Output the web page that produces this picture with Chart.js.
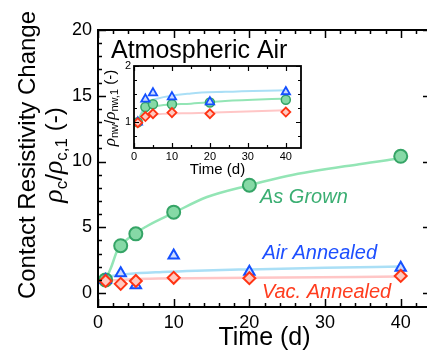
<!DOCTYPE html>
<html><head><meta charset="utf-8">
<script src="https://cdn.jsdelivr.net/npm/chart.js@4"></script>
<style>
html,body{margin:0;padding:0;background:#fff;overflow:hidden;}
#wrap{position:relative;width:440px;height:351px;}
#main{position:absolute;left:0;top:0;}
#inset{position:absolute;left:95px;top:50px;}
</style></head><body>
<div id="wrap"><canvas id="main" width="440" height="351"></canvas><canvas id="inset" width="215" height="130"></canvas></div>
<script>
// ---------- data ----------
const days = [1, 3, 5, 10, 20, 40];
const asGrown = [1.0, 3.6, 4.5, 6.15, 8.2, 10.4];
const airAnnealed = [1.0, 1.5, 0.6, 2.85, 1.62, 1.93];
const vacAnnealed = [0.92, 0.7, 0.92, 1.16, 1.13, 1.3];

const fitDaysGrown = [1, 1.7, 2.6, 4, 6.5, 10, 14.4, 20, 25, 34.5, 40];
const fitGrown = [1.0, 1.9, 3.3, 4.15, 5.1, 6.1, 7.3, 8.2, 8.9, 9.8, 10.25];
const fitDaysAir = [1, 1.5, 2.6, 4, 8.5, 13, 20, 30, 40];
const fitAir = [1.0, 1.25, 1.35, 1.45, 1.6, 1.7, 1.8, 1.92, 2.02];
const fitDaysVac = [1, 2, 4, 8, 20, 40];
const fitVac = [0.92, 0.98, 1.04, 1.1, 1.16, 1.25];

const insetGrown = [1.0, 1.27, 1.32, 1.32, 1.35, 1.40];
const insetAir = [1.0, 1.41, 1.52, 1.45, 1.36, 1.54];
const insetVac = [0.99, 1.10, 1.15, 1.17, 1.15, 1.18];
const insetFitDaysGrown = [1, 2, 4.6, 15, 24, 40];
const insetFitGrown = [1.03, 1.15, 1.27, 1.33, 1.375, 1.42];
const insetFitDaysAir = [1, 3, 6.3, 15, 24, 40];
const insetFitAir = [1.0, 1.32, 1.42, 1.51, 1.54, 1.57];
const insetFitDaysVac = [1, 2.5, 6.3, 15, 40];
const insetFitVac = [1.0, 1.08, 1.14, 1.16, 1.21];

const xTicks = [0, 10, 20, 30, 40];
const yTicks = [0, 5, 10, 15, 20];
const insetXTicks = [0, 10, 20, 30, 40];
const insetYTicks = [1, 2];

// ---------- style ----------
const GREEN_LINE = '#93e5b5', GREEN_FILL = '#86d9a6', GREEN_EDGE = '#35a466', GREEN_TEXT = '#3aae72';
const BLUE_LINE = '#aadff6', BLUE_FILL = '#cddbff', BLUE_EDGE = '#1450ff', BLUE_TEXT = '#1d4fff';
const RED_LINE = '#ffc6c6', RED_FILL = '#ffc9c0', RED_EDGE = '#ff3414', RED_TEXT = '#ff3c1e';
const SANS = '"Liberation Sans", Arial, sans-serif';
const SERIF = '"Liberation Serif", "Times New Roman", serif';

const pts = (xs, ys) => xs.map((x, i) => ({x: x, y: ys[i]}));

function drawRich(ctx, parts, cx, cy, angle) {
  ctx.save();
  ctx.translate(cx, cy);
  ctx.rotate(angle);
  let total = 0;
  parts.forEach(p => { ctx.font = p.font; p.w = ctx.measureText(p.t).width; total += p.w; });
  let x = -total / 2;
  ctx.textBaseline = 'alphabetic';
  ctx.textAlign = 'left';
  parts.forEach(p => { ctx.font = p.font; ctx.fillStyle = p.color || '#000'; ctx.fillText(p.t, x, p.dy || 0); x += p.w; });
  ctx.restore();
}

function frameTicks(id, spec) {
  return {
    id: id,
    afterDatasetsDraw(chart) {
      const ctx = chart.ctx, a = chart.chartArea, xs = chart.scales.x, ys = chart.scales.y;
      ctx.save();
      ctx.strokeStyle = '#000';
      ctx.lineWidth = spec.tickWidth;
      ctx.beginPath();
      for (let i = 0; i * spec.xMinor <= xs.max + 1e-9; i++) {
        const v = i * spec.xMinor;
        const px = Math.round(xs.getPixelForValue(v)) + 0.5;
        const major = Math.abs(v / spec.xMajor - Math.round(v / spec.xMajor)) < 1e-6;
        const L = major ? spec.majorLen : spec.minorLen;
        ctx.moveTo(px, a.bottom); ctx.lineTo(px, a.bottom - L);
        ctx.moveTo(px, a.top); ctx.lineTo(px, a.top + L);
      }
      for (let i = 0; spec.yStart + i * spec.yMinor <= ys.max + 1e-9; i++) {
        const v = spec.yStart + i * spec.yMinor;
        const py = Math.round(ys.getPixelForValue(v)) + 0.5;
        const major = Math.abs(v / spec.yMajor - Math.round(v / spec.yMajor)) < 1e-6;
        const L = major ? spec.majorLen : spec.minorLen;
        ctx.moveTo(a.left, py); ctx.lineTo(a.left + L, py);
        ctx.moveTo(a.right, py); ctx.lineTo(a.right - L, py);
      }
      ctx.stroke();
      ctx.lineWidth = spec.frameWidth;
      ctx.strokeRect(a.left, a.top, a.right - a.left, a.bottom - a.top);
      ctx.restore();
    }
  };
}

const mainText = {
  id: 'mainText',
  afterDraw(chart) {
    const ctx = chart.ctx, a = chart.chartArea, xs = chart.scales.x, ys = chart.scales.y;
    ctx.save();
    ctx.textAlign = 'center';
    ctx.textBaseline = 'middle';
    ctx.font = 'italic 20px ' + SANS;
    ctx.fillStyle = GREEN_TEXT; ctx.fillText('As Grown', xs.getPixelForValue(27.2), ys.getPixelForValue(7.3));
    ctx.fillStyle = BLUE_TEXT; ctx.fillText('Air Annealed', xs.getPixelForValue(29.3), ys.getPixelForValue(3.04));
    ctx.fillStyle = RED_TEXT; ctx.fillText('Vac. Annealed', xs.getPixelForValue(30.2), ys.getPixelForValue(0.08));
    ctx.fillStyle = '#000';
    ctx.textAlign = 'left';
    ctx.textBaseline = 'alphabetic';
    ctx.font = '25px ' + SANS;
    ctx.fillText('Atmospheric Air', a.left + 13, 58);
    ctx.textAlign = 'center';
    ctx.fillText('Time (d)', (a.left + a.right) / 2, 345);
    // y titles
    ctx.save();
    ctx.translate(35, 155); ctx.rotate(-Math.PI / 2);
    ctx.font = '24px ' + SANS; ctx.textAlign = 'center';
    ctx.fillText('Contact Resistivity Change', 0, 0);
    ctx.restore();
    drawRich(ctx, [
      {t: 'ρ', font: 'italic 28px ' + SERIF},
      {t: 'c', font: '17px ' + SANS, dy: 5},
      {t: '/', font: '24px ' + SANS},
      {t: 'ρ', font: 'italic 28px ' + SERIF},
      {t: 'c,1', font: '17px ' + SANS, dy: 5},
      {t: ' (-)', font: '24px ' + SANS}
    ], 62, 155, -Math.PI / 2);
    ctx.restore();
  }
};

const insetText = {
  id: 'insetText',
  afterDraw(chart) {
    const ctx = chart.ctx, a = chart.chartArea;
    ctx.save();
    ctx.fillStyle = '#000';
    ctx.font = '15px ' + SANS;
    ctx.textAlign = 'center';
    ctx.textBaseline = 'alphabetic';
    ctx.fillText('Time (d)', (a.left + a.right) / 2, 124);
    drawRich(ctx, [
      {t: 'ρ', font: 'italic 17px ' + SERIF},
      {t: 'nw', font: '11px ' + SANS, dy: 3},
      {t: '/', font: '15px ' + SANS},
      {t: 'ρ', font: 'italic 17px ' + SERIF},
      {t: 'nw,1', font: '11px ' + SANS, dy: 3},
      {t: ' (-)', font: '15px ' + SANS}
    ], 20, 58, -Math.PI / 2);
    ctx.restore();
  }
};

function lineDs(xs, ys, color, w) {
  return {data: pts(xs, ys), showLine: true, borderColor: color, borderWidth: w, pointRadius: 0,
          tension: 0.4, cubicInterpolationMode: 'monotone', fill: false};
}
function markDs(ys, style, r, fill, edge, bw) {
  return {data: pts(days, ys), showLine: false, pointStyle: style, pointRadius: r,
          backgroundColor: fill, borderColor: edge, pointBorderWidth: bw, borderWidth: bw};
}

function scaleOpts(min, max, ticks, fontSize, pad, fitKey, fitVal) {
  return {
    type: 'linear', min: min, max: max,
    grid: {display: false, drawTicks: false},
    border: {display: false},
    ticks: {font: {family: SANS, size: fontSize}, color: '#000', padding: pad, maxRotation: 0, autoSkip: false},
    afterBuildTicks: s => { s.ticks = ticks.map(v => ({value: v})); },
    afterFit: s => { s[fitKey] = fitVal; }
  };
}

new Chart(document.getElementById('main'), {
  type: 'scatter',
  data: {datasets: [
    markDs(vacAnnealed, 'rectRot', 6, RED_FILL, RED_EDGE, 2),
    markDs(airAnnealed, 'triangle', 6, BLUE_FILL, BLUE_EDGE, 2),
    markDs(asGrown, 'circle', 6.5, GREEN_FILL, GREEN_EDGE, 2),
    lineDs(fitDaysGrown, fitGrown, GREEN_LINE, 2.5),
    lineDs(fitDaysAir, fitAir, BLUE_LINE, 2.5),
    lineDs(fitDaysVac, fitVac, RED_LINE, 2.5)
  ]},
  options: {
    responsive: false, animation: false, devicePixelRatio: 1,
    layout: {padding: {left: 0, right: 9, top: 30, bottom: 0}},
    plugins: {legend: {display: false}, tooltip: {enabled: false}},
    scales: {
      x: scaleOpts(0, 44, xTicks, 18, 5, 'height', 44),
      y: scaleOpts(-1.06, 20, yTicks, 18, 6, 'width', 98)
    }
  },
  plugins: [frameTicks('ftMain', {xMinor: 2, xMajor: 10, yStart: 0, yMinor: 1, yMajor: 5, majorLen: 8, minorLen: 4, tickWidth: 1.5, frameWidth: 2}), mainText]
});

new Chart(document.getElementById('inset'), {
  type: 'scatter',
  data: {datasets: [
    {data: pts(days, insetVac), showLine: false, pointStyle: 'rectRot', pointRadius: 4.5, backgroundColor: RED_FILL, borderColor: RED_EDGE, borderWidth: 1.8},
    {data: pts(days, insetAir), showLine: false, pointStyle: 'triangle', pointRadius: 4.8, backgroundColor: BLUE_FILL, borderColor: BLUE_EDGE, borderWidth: 1.8},
    {data: pts(days, insetGrown), showLine: false, pointStyle: 'circle', pointRadius: 4.5, backgroundColor: GREEN_FILL, borderColor: GREEN_EDGE, borderWidth: 1.5},
    lineDs(insetFitDaysGrown, insetFitGrown, GREEN_LINE, 2),
    lineDs(insetFitDaysAir, insetFitAir, BLUE_LINE, 2),
    lineDs(insetFitDaysVac, insetFitVac, RED_LINE, 2)
  ]},
  options: {
    responsive: false, animation: false, devicePixelRatio: 1,
    layout: {padding: {left: 0, right: 9, top: 16, bottom: 0}},
    plugins: {legend: {display: false}, tooltip: {enabled: false}},
    scales: {
      x: scaleOpts(0, 44, insetXTicks, 11, 2, 'height', 32),
      y: scaleOpts(0.54, 2, insetYTicks, 11, 3, 'width', 39)
    }
  },
  plugins: [frameTicks('ftInset', {xMinor: 5, xMajor: 10, yStart: 0.75, yMinor: 0.25, yMajor: 1, majorLen: 5, minorLen: 3, tickWidth: 1.2, frameWidth: 1.8}), insetText]
});
</script>
</body></html>
